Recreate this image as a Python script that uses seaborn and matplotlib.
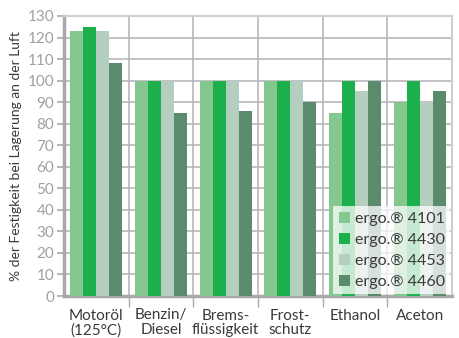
import matplotlib
matplotlib.use("Agg")
import matplotlib.pyplot as plt
import seaborn as sns
import pandas as pd

categories = ["Motoröl\n(125°C)", "Benzin/\nDiesel", "Brems-\nflüssigkeit", "Frost-\nschutz", "Ethanol", "Aceton"]
series_names = ["ergo.® 4101", "ergo.® 4430", "ergo.® 4453", "ergo.® 4460"]
v4101 = [123, 100, 100, 100, 85, 90]
v4430 = [125, 100, 100, 100, 100, 100]
v4453 = [123, 100, 100, 100, 95, 90]
v4460 = [108, 85, 86, 90, 100, 95]
colors = ["#84c78f", "#1bb04b", "#b4cfc0", "#5a8b6d"]
yticks = list(range(0, 131, 10))

rows = []
for name, vals in zip(series_names, [v4101, v4430, v4453, v4460]):
    for c, v in zip(categories, vals):
        rows.append({"cat": c, "series": name, "val": v})
df = pd.DataFrame(rows)

sns.set_theme(style="white")
plt.rcParams['font.family'] = ['Lato', 'DejaVu Sans']

fig = plt.figure(figsize=(4.6, 3.38), dpi=100)
ax = fig.add_axes([64/460, 1-296/338, 388/460, 280/338])
sns.barplot(data=df, x="cat", y="val", hue="series", palette=colors,
            width=0.8, saturation=1, ax=ax, zorder=3, edgecolor="none", linewidth=0)

ax.set_ylim(0, 130)
ax.set_xlim(-0.5, len(categories) - 0.5)
ax.set_yticks(yticks)
ax.set_xticks(range(len(categories)))
ax.set_xticks([i + 0.5 for i in range(len(categories) - 1)], minor=True)
ax.yaxis.grid(True, color="#b8b8bc", linewidth=1.2, zorder=0)
ax.xaxis.grid(True, which="minor", color="#b8b8bc", linewidth=1.2, zorder=0)
ax.set_axisbelow(True)

for s in ["top", "right"]:
    ax.spines[s].set_color("#cfcfd2")
    ax.spines[s].set_linewidth(1.5)
ax.spines["left"].set_color("#a9a9ad")
ax.spines["left"].set_linewidth(2.5)
ax.spines["bottom"].set_color("#a9a9ad")
ax.spines["bottom"].set_linewidth(2.5)

ax.tick_params(axis="y", which="major", left=True, length=5, width=1.2, color="#a9a9ad",
               labelsize=11, labelcolor="#a0a0a4", pad=2)
ax.tick_params(axis="x", which="major", bottom=False, labelsize=11, labelcolor="#3a3a3a", pad=3)
ax.tick_params(axis="x", which="minor", bottom=True, length=8, width=1.0, color="#a9a9ad")
for lab in ax.get_xticklabels():
    lab.set_linespacing(1.05)

ax.set_xlabel("")
ax.set_ylabel("% der Festigkeit bei Lagerung an der Luft", fontsize=10, color="#3a3a3a", labelpad=4)

leg = ax.legend(loc="lower right", frameon=True, fontsize=11.5, handlelength=0.7, handleheight=0.7,
                handletextpad=0.3, labelspacing=0.42, borderpad=0.35, borderaxespad=0.1,
                fancybox=False)
leg.get_frame().set_facecolor("white")
leg.get_frame().set_alpha(0.75)
leg.get_frame().set_edgecolor("none")
for t in leg.get_texts():
    t.set_color("#3a3a3a")
leg.set_zorder(5)

fig.savefig("out.png", dpi=100)
